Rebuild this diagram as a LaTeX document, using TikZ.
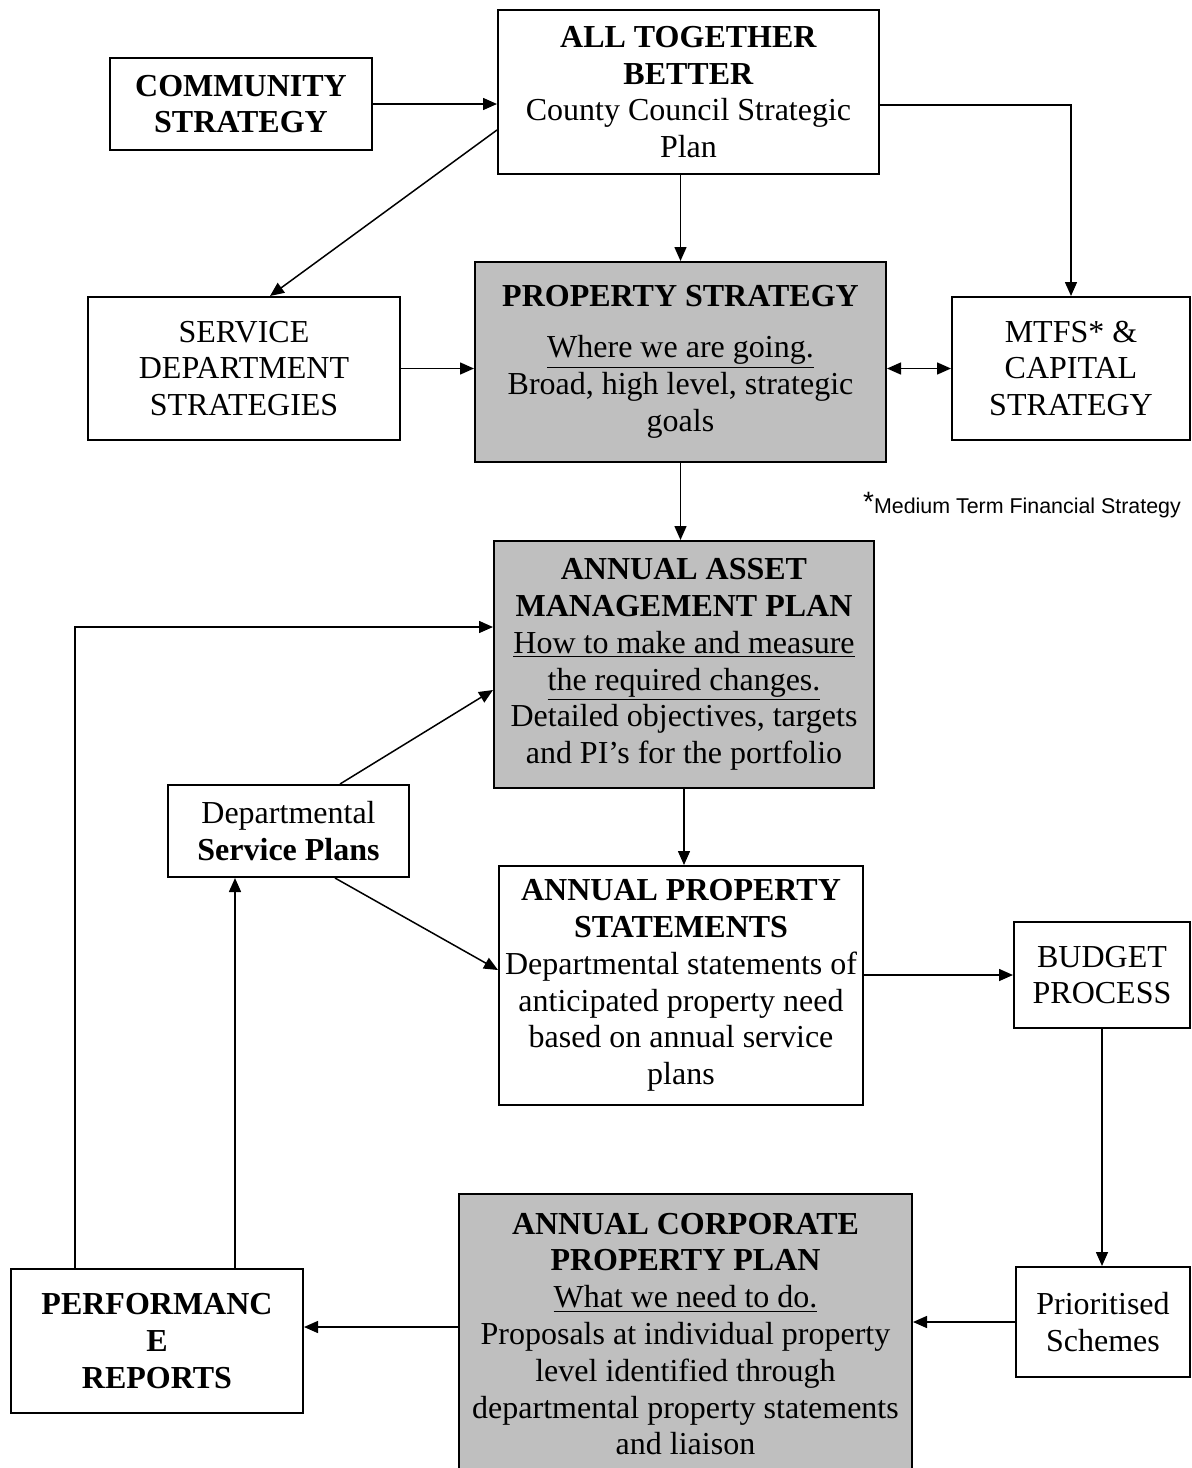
\documentclass[tikz,border=0pt]{standalone}
\usepackage{fontspec}
\setmainfont{Liberation Serif}
\newfontfamily\notefont{Liberation Sans}
\usetikzlibrary{arrows.meta}

\tikzset{
  box/.style={draw, line width=1pt, align=center, inner sep=0pt,
    font=\fontsize{16}{18.4}\selectfont},
  greybox/.style={box, fill=gray!50},
  arr/.style={line width=0.75pt, -{Triangle[length=7pt,width=6pt]}},
  dblarr/.style={line width=0.75pt, {Triangle[length=7pt,width=6pt]}-{Triangle[length=7pt,width=6pt]}}
}

\begin{document}
\begin{tikzpicture}[x=0.5pt,y=-0.5pt]

        \useasboundingbox (0,0) rectangle (1191,1468);

        % Top row
        \node[box, minimum width=131pt, minimum height=46pt] (comm) at (241,104)
            {\textbf{COMMUNITY}\\\textbf{STRATEGY}};
        \node[box, minimum width=190.5pt, minimum height=82pt] (atb) at (688.5,92)
            {\textbf{ALL TOGETHER}\\\textbf{BETTER}\\County Council Strategic\\Plan};

        % Strategy row
        \node[box, minimum width=156pt, minimum height=71.5pt] (sds) at (244,368.5)
            {SERVICE\\DEPARTMENT\\STRATEGIES};
        \node[greybox, minimum width=205.5pt, minimum height=100pt] (ps) at (680.5,362)
            {\textbf{PROPERTY STRATEGY}\\[7pt]\underline{Where we are going.}\\Broad, high level, strategic\\goals};
        \node[box, minimum width=119pt, minimum height=71.5pt] (mtfs) at (1071,368.5)
            {MTFS* \&\\CAPITAL\\STRATEGY};
        \node (note) at (1022,505)
            {\notefont\raisebox{1pt}{\fontsize{14}{14}\selectfont *}\fontsize{10.7}{12}\selectfont Medium Term Financial Strategy};

        % Plans
        \node[greybox, minimum width=190pt, minimum height=123.5pt] (aamp) at (684,664.5)
            {\textbf{ANNUAL ASSET}\\\textbf{MANAGEMENT PLAN}\\\underline{How to make and measure}\\\underline{the required changes.}\\Detailed objectives, targets\\and PI's for the portfolio};
        \node[box, minimum width=120.5pt, minimum height=46pt] (dsp) at (288.5,831)
            {Departmental\\\textbf{Service Plans}};
        \node[box, minimum width=182pt, minimum height=119.5pt] (aps) at (681,985.5)
            {\textbf{ANNUAL PROPERTY}\\\textbf{STATEMENTS}\\Departmental statements of\\anticipated property need\\based on annual service\\plans};
        \node[box, minimum width=88pt, minimum height=53pt] (bp) at (1102,975)
            {BUDGET\\PROCESS};

        % Bottom row
        \node[greybox, minimum width=226.5pt, minimum height=140pt] (acpp) at (685.5,1334)
            {\textbf{ANNUAL CORPORATE}\\\textbf{PROPERTY PLAN}\\\underline{What we need to do.}\\Proposals at individual property\\level identified through\\departmental property statements\\and liaison};
        \node[box, minimum width=87pt, minimum height=55pt] (pri) at (1103,1322)
            {Prioritised\\Schemes};
        \node[box, minimum width=146pt, minimum height=72pt] (perf) at (157,1341)
            {\textbf{PERFORMANC}\\\textbf{E}\\\textbf{REPORTS}};

        % Connectors
        \draw[arr] (comm.east) -- (comm.east -| atb.west);
        \draw[arr] ([yshift=-19pt]atb.west) -- ([xshift=13pt]sds.north);
        \draw[arr] (atb.south -| ps.north) -- (ps.north);
        \draw[arr] ([yshift=-6.5pt]atb.east) -| (mtfs.north);
        \draw[arr] (sds.east) -- (sds.east -| ps.west);
        \draw[dblarr] (ps.east |- mtfs.west) -- (mtfs.west);
        \draw[arr] (ps.south) -- (ps.south |- aamp.north);
        \draw[arr] ([xshift=-41pt]perf.north) |- ([yshift=18.75pt]aamp.west);
        \draw[arr] ([xshift=25.75pt]dsp.north) -- ([yshift=-12.75pt]aamp.west);
        \draw[arr] (aamp.south) -- (aamp.south |- aps.north);
        \draw[arr] ([xshift=23.25pt]dsp.south) -- ([yshift=7.75pt]aps.west);
        \draw[arr] ([xshift=39pt]perf.north) -- ([xshift=39pt]perf.north |- dsp.south);
        \draw[arr] (aps.east |- bp.west) -- (bp.west);
        \draw[arr] (bp.south) -- (bp.south |- pri.north);
        \draw[arr] (pri.west) -- (pri.west -| acpp.east);
        \draw[arr] ([yshift=3.5pt]acpp.west) -- ([yshift=3.5pt]acpp.west -| perf.east);

\end{tikzpicture}
\end{document}
